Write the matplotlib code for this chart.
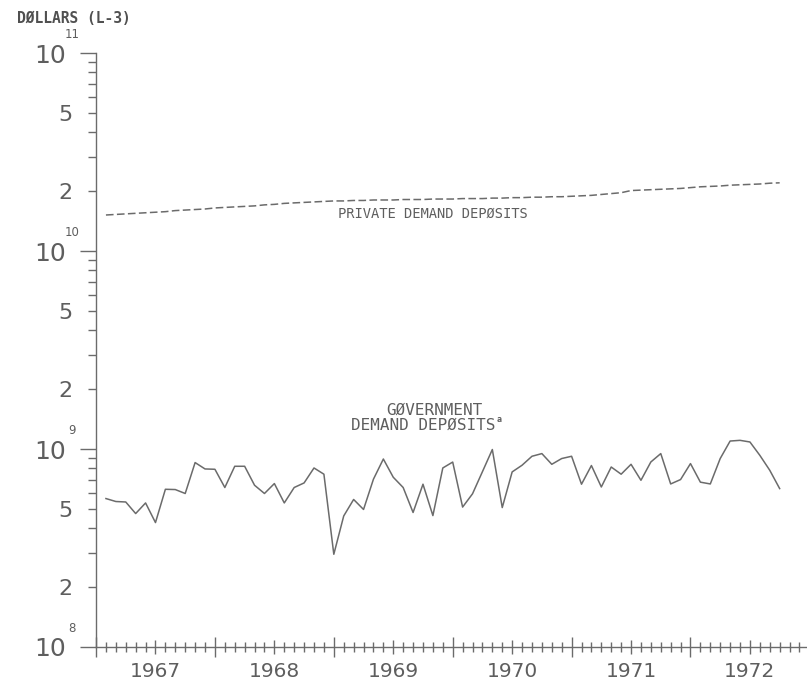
import matplotlib
matplotlib.use("Agg")
import matplotlib.pyplot as plt
import numpy as np
from matplotlib.ticker import FixedLocator, LogLocator, FuncFormatter

# monthly observations, plotted at month ends (Feb 1967 .. Oct 1972 positions)
start_year = 1967
n_months = 69
months = start_year + np.arange(1, n_months + 1) / 12.0

# government demand deposits, billions of dollars
gov_bn = [
    0.562, 0.543, 0.540, 0.472, 0.534, 0.425, 0.626, 0.624, 0.596, 0.854, 0.793,
    0.790, 0.639, 0.818, 0.818, 0.656, 0.596, 0.669, 0.534, 0.639, 0.674, 0.802, 0.746,
    0.294, 0.459, 0.556, 0.495, 0.704, 0.890, 0.720, 0.639, 0.478, 0.664, 0.461, 0.802,
    0.859, 0.509, 0.594, 0.768, 0.994, 0.506, 0.766, 0.828, 0.919, 0.948, 0.837, 0.895,
    0.919, 0.664, 0.825, 0.643, 0.811, 0.746, 0.837, 0.695, 0.860, 0.948, 0.666, 0.701,
    0.844, 0.680, 0.666, 0.895, 1.097, 1.106, 1.085, 0.929, 0.781, 0.631,
]

# private demand deposits, billions of dollars
priv_bn = [
    15.2, 15.3, 15.4, 15.5, 15.6, 15.7, 15.8, 16.0, 16.1, 16.2, 16.3,
    16.5, 16.6, 16.7, 16.8, 16.9, 17.1, 17.2, 17.4, 17.5, 17.6, 17.7, 17.8,
    17.9, 17.9, 18.0, 18.0, 18.1, 18.1, 18.1, 18.2, 18.2, 18.2, 18.3, 18.3,
    18.3, 18.4, 18.4, 18.4, 18.5, 18.5, 18.6, 18.6, 18.7, 18.7, 18.8, 18.8,
    18.9, 19.0, 19.1, 19.3, 19.5, 19.7, 20.2, 20.3, 20.4, 20.5, 20.6, 20.7,
    20.9, 21.1, 21.2, 21.3, 21.5, 21.6, 21.7, 21.8, 22.0, 22.1,
]

years = [1967, 1968, 1969, 1970, 1971, 1972]
decades = [8, 9, 10, 11]

gov = np.array(gov_bn) * 1e9
priv = np.array(priv_bn) * 1e9

INK = "#6b6b6b"
TXT = "#5e5e5e"

fig = plt.figure(figsize=(8.07, 6.84), dpi=100)
ax = fig.add_axes([0.119, 0.0541, 0.881, 0.8684])

ax.plot(months, gov, color=INK, lw=1.1)
ax.plot(months, priv, color=INK, lw=1.1, dashes=(5, 2.2))

ax.set_yscale("log")
ax.set_ylim(1e8, 1e11)
ax.set_xlim(start_year, 1972.98)

for s in ["top", "right"]:
    ax.spines[s].set_visible(False)
for s in ["left", "bottom"]:
    ax.spines[s].set_color(INK)
    ax.spines[s].set_linewidth(1.0)

# ── y axis: "10" at decades, 5 and 2 in between ──
ax.yaxis.set_major_locator(FixedLocator([10.0 ** k for k in decades]))
ax.yaxis.set_major_formatter(FuncFormatter(lambda v, p: "10"))
ax.yaxis.set_minor_locator(LogLocator(base=10, subs=np.arange(2, 10)))


def minor_label(v, p):
    m = round(v / 10 ** np.floor(np.log10(v) + 1e-9))
    return str(m) if m in (2, 5) else ""


ax.yaxis.set_minor_formatter(FuncFormatter(minor_label))
ax.tick_params(axis="y", which="major", direction="out", length=11.5, width=1.0,
               color=INK, labelcolor=TXT, labelsize=18, pad=10)
ax.tick_params(axis="y", which="minor", direction="out", length=6, width=1.0,
               color=INK, labelcolor=TXT, labelsize=16, pad=11)

for k in decades:
    ax.annotate(str(k), xy=(0, 10.0 ** k), xycoords=("axes fraction", "data"),
                xytext=(-17, 13), textcoords="offset points",
                ha="center", va="center", fontsize=8.5, color=TXT)

# ── x axis: months, half years and years ──
half_years = np.arange(start_year, 1973.01, 0.5)
ax.xaxis.set_major_locator(FixedLocator(half_years))
ax.xaxis.set_major_formatter(FuncFormatter(
    lambda v, p: str(int(v)) if abs(v - int(v) - 0.5) < 1e-6 else ""))
ax.xaxis.set_minor_locator(FixedLocator(start_year + np.arange(0, 73) / 12.0))
ax.tick_params(axis="x", which="major", direction="inout", length=14, width=1.0,
               color=INK, labelcolor=TXT, labelsize=14.5, pad=4)
ax.tick_params(axis="x", which="minor", direction="inout", length=7, width=1.0,
               color=INK)
for t, v in zip(ax.xaxis.get_major_ticks(), half_years):
    if abs(v - round(v)) > 1e-6:
        t.tick1line.set_markersize(10.5)

# ── labels ──
mono = "DejaVu Sans Mono"
fig.text(0.021, 0.973, "DØLLARS (L-3)", family=mono, fontsize=10.5,
         fontweight="bold", color="#505050", ha="left", va="center")
ax.text(1969.83, 1.544e10, "PRIVATE DEMAND DEPØSITS", family=mono, fontsize=9.9,
        color=TXT, ha="center", va="center")
ax.text(1969.85, 1.567e9, "GØVERNMENT", family=mono, fontsize=11.5,
        color=TXT, ha="center", va="center")
ax.text(1969.75, 1.317e9, "DEMAND DEPØSITS", family=mono, fontsize=11.5,
        color=TXT, ha="center", va="center")
ax.text(1970.39, 1.41e9, "a", family=mono, fontsize=6, fontweight="bold",
        color=TXT, ha="center", va="center")

fig.savefig("out.png", dpi=100)
